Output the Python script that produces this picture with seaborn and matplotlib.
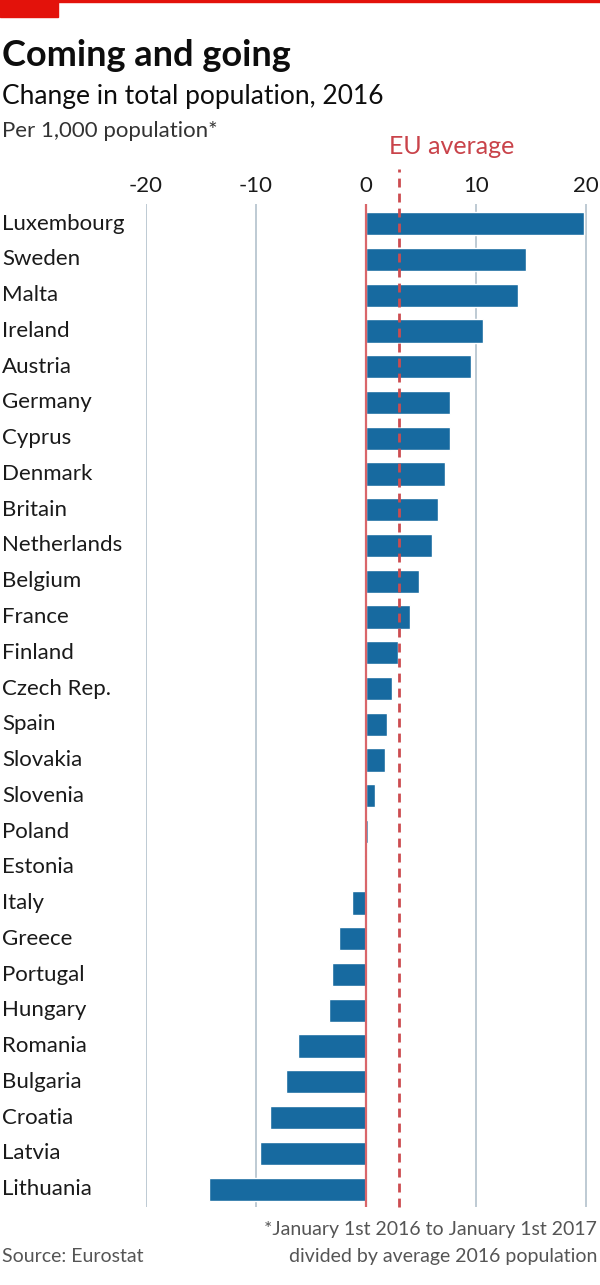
import matplotlib
matplotlib.use("Agg")
import matplotlib.pyplot as plt
import matplotlib.transforms as mtransforms
import seaborn as sns
import pandas as pd

# Data (per 1,000 population, 2016)
countries = ["Luxembourg", "Sweden", "Malta", "Ireland", "Austria", "Germany",
             "Cyprus", "Denmark", "Britain", "Netherlands", "Belgium", "France",
             "Finland", "Czech Rep.", "Spain", "Slovakia", "Slovenia", "Poland",
             "Estonia", "Italy", "Greece", "Portugal", "Hungary", "Romania",
             "Bulgaria", "Croatia", "Latvia", "Lithuania"]
change = [19.8, 14.5, 13.8, 10.6, 9.5, 7.6, 7.6, 7.2, 6.5, 6.0, 4.8, 4.0,
          2.9, 2.4, 1.9, 1.7, 0.8, 0.2, -0.2, -1.25, -2.5, -3.1, -3.4, -6.2,
          -7.3, -8.7, -9.6, -14.3]
eu_average = 3.0
ticks = [-20, -10, 0, 10, 20]

df = pd.DataFrame({"country": countries, "change": change})

sns.set_style("white")
plt.rcParams["font.family"] = ["Lato", "DejaVu Sans"]

fig = plt.figure(figsize=(6, 12.85), dpi=100)
ax = fig.add_axes([146 / 600, 1 - 1207 / 1285, 451 / 600, 1003 / 1285])

sns.barplot(data=df, x="change", y="country", color="#176aa0", saturation=1,
            width=0.65, ax=ax, zorder=3)

ax.set_xlim(-20, 21)
ax.set_ylim(27.5, -0.55)

# gridlines, red zero line and dashed EU average
for t in ticks:
    if t == 0:
        ax.axvline(t, color="#d9666a", lw=1.6, zorder=4)
    else:
        ax.axvline(t, color="#b9c6d0", lw=1.3, zorder=1)
ax.axvline(eu_average, ymin=0, ymax=1.035, color="#cc4c50", lw=2,
           ls=(0, (3.2, 2.2)), zorder=5, clip_on=False)

ax.set_xticks(ticks)
ax.set_xticklabels([str(t) for t in ticks])
ax.xaxis.tick_top()
ax.tick_params(axis="x", length=0, pad=6, labelsize=16, labelcolor="#1a1a1a")
ax.set_yticks([])
ax.set_xlabel("")
ax.set_ylabel("")
for s in ax.spines.values():
    s.set_visible(False)

# country labels flush with the left edge of the figure
trans = mtransforms.blended_transform_factory(fig.transFigure, ax.transData)
for i, c in enumerate(countries):
    ax.text(2 / 600, i, c, transform=trans, ha="left", va="center",
            fontsize=16, color="#1a1a1a", clip_on=False)

ax.text(eu_average - 0.9, -1.85, "EU average", ha="left", va="bottom",
        fontsize=18, color="#c9434a", clip_on=False)

# header
fig.add_artist(plt.Rectangle((0, 1 - 2 / 1285), 1, 2 / 1285,
                             transform=fig.transFigure, color="#e3120b"))
fig.add_artist(plt.Rectangle((0, 1 - 17 / 1285), 58 / 600, 17 / 1285,
                             transform=fig.transFigure, color="#e3120b"))
fig.text(2 / 600, 1 - 66 / 1285, "Coming and going", fontsize=26,
         fontweight="bold", color="#0d0d0d", va="baseline")
fig.text(2 / 600, 1 - 104 / 1285, "Change in total population, 2016",
         fontsize=19, color="#0d0d0d", va="baseline")
fig.text(2 / 600, 1 - 137 / 1285, "Per 1,000 population*", fontsize=16,
         color="#333333", va="baseline")

# footer
fig.text(2 / 600, 1 - 1262 / 1285, "Source: Eurostat", fontsize=14,
         color="#555555", va="baseline")
fig.text(597 / 600, 1 - 1235 / 1285, "*January 1st 2016 to January 1st 2017",
         fontsize=14, color="#555555", va="baseline", ha="right")
fig.text(597 / 600, 1 - 1262 / 1285, "divided by average 2016 population",
         fontsize=14, color="#555555", va="baseline", ha="right")

fig.savefig("out.png", dpi=100)
